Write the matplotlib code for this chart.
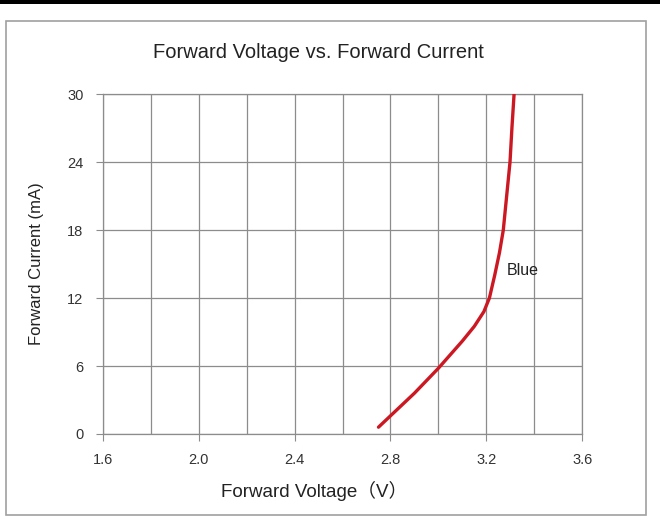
#-------------------------------------------------------------------
#  curva V x I do LED azul
#-------------------------------------------------------------------
import matplotlib.pyplot as plt
from matplotlib.patches import Rectangle

# dados
tensao = [2.75, 2.80, 2.85, 2.90, 2.95, 3.00, 3.05, 3.10, 3.15, 3.19, 3.213, 3.235, 3.255, 3.271, 3.285, 3.299, 3.307, 3.316]
corrente = [0.6, 1.6, 2.6, 3.6, 4.7, 5.8, 7.0, 8.2, 9.5, 10.8, 12.0, 14.0, 16.0, 18.0, 21.0, 24.0, 27.0, 30.0]
xticks = [1.6, 2.0, 2.4, 2.8, 3.2, 3.6]
xgrid = [1.8, 2.2, 2.6, 3.0, 3.4]
yticks = [0, 6, 12, 18, 24, 30]
rotulo_serie = "Blue"

fonte = "Liberation Sans"
cinza = "#8c8c8c"

fig = plt.figure(figsize=(6.6, 5.27), dpi=100)
ax = fig.add_axes([0.156, 0.1765, 0.726, 0.645])

# moldura externa e barra preta no topo
fig.patches.append(Rectangle((0.009, 0.023), 0.970, 0.937, transform=fig.transFigure,
                             fill=False, edgecolor="#a0a0a0", lw=1.2))
fig.patches.append(Rectangle((0, 0.992), 1, 0.008, transform=fig.transFigure,
                             facecolor="black", edgecolor="none"))

ax.plot(tensao, corrente, color="#cc1822", lw=2.4, solid_capstyle="round", zorder=3)
ax.text(3.287, 14.4, rotulo_serie, fontsize=11.5, family=fonte, va="center", ha="left", color="#222222")

ax.set_xlim(1.6, 3.6)
ax.set_ylim(0, 30)
ax.set_xticks(xticks)
ax.set_xticklabels(["%.1f" % v for v in xticks], family=fonte, fontsize=10.5, color="#333333")
ax.set_yticks(yticks)
ax.set_yticklabels([str(v) for v in yticks], family=fonte, fontsize=10.5, color="#333333")
ax.set_xticks(xgrid, minor=True)
ax.tick_params(which="minor", length=0)
ax.tick_params(which="major", length=5, color=cinza)
ax.tick_params(axis="x", pad=9)
ax.tick_params(axis="y", pad=9)

ax.grid(True, which="both", axis="x", color=cinza, lw=0.9)
ax.grid(True, which="major", axis="y", color=cinza, lw=0.9)
ax.set_axisbelow(True)
for lado in ax.spines.values():
    lado.set_color(cinza)
    lado.set_linewidth(0.9)

fig.text(0.482, 0.901, "Forward Voltage vs. Forward Current", family=fonte, fontsize=14.5,
         color="#222222", ha="center", va="center")
ax.set_xlabel("Forward Voltage（V）", family=[fonte, "Noto Sans CJK SC"], fontsize=13.5, color="#222222", va="center")
ax.xaxis.set_label_coords(0.44, -0.168)
ax.set_ylabel("Forward Current (mA)", family=fonte, fontsize=12, color="#222222", va="center")
ax.yaxis.set_label_coords(-0.138, 0.5)

plt.savefig("out.png", dpi=100)
